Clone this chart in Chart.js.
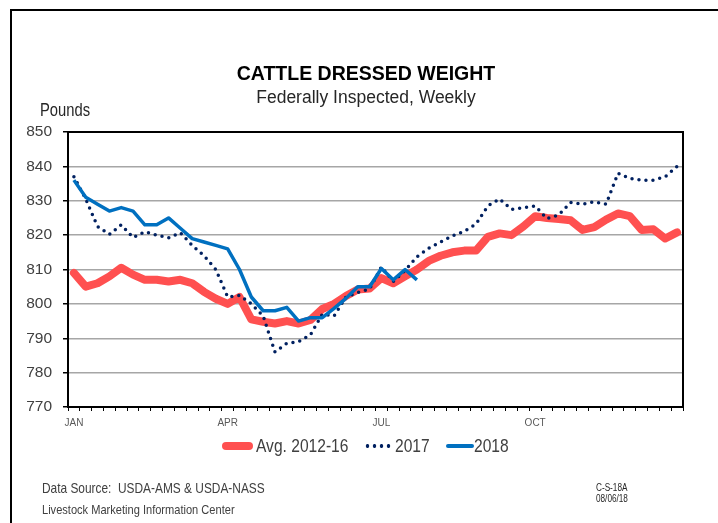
<!DOCTYPE html>
<html>
<head>
<meta charset="utf-8">
<script src="https://cdn.jsdelivr.net/npm/chart.js@4.4.1/dist/chart.umd.min.js"></script>
<style>
  html, body { margin: 0; padding: 0; background: #fff; }
  #wrap { position: relative; width: 718px; height: 523px; overflow: hidden; }
  #frame { position: absolute; left: 10px; top: 9px; width: 900px; height: 700px; border: 2px solid #000; }
  canvas { position: absolute; left: 0; top: 0; }
  .t { position: absolute; white-space: nowrap; line-height: 1; font-family: 'Liberation Sans', Arial, sans-serif; }
  /* no narrow face installed: squeeze Arial instead */
  .narrow { transform: scaleX(0.82); transform-origin: 0 0; }
  .sw { position: absolute; }
</style>
</head>
<body>
<div id="wrap">
  <div id="frame"></div>
  <canvas id="chart" width="718" height="523"></canvas>
  <div class="t" style="left:166px; width:400px; text-align:center; top:64px; font-size:19.5px; font-weight:bold; color:#000;">CATTLE DRESSED WEIGHT</div>
  <div class="t" style="left:166px; width:400px; text-align:center; top:88.5px; font-size:17.5px; color:#262626;">Federally Inspected, Weekly</div>
  <div class="t narrow" style="left:40px; top:101px; font-size:18px; color:#262626;">Pounds</div>

  <div class="sw" style="left:222px; top:442px; width:31px; height:8px; border-radius:4px; background:#FF5050;"></div>
  <div class="t narrow" style="left:256px; top:435.5px; font-size:19px; color:#404040;">Avg. 2012-16</div>
  <div class="sw" style="left:364px; top:444px; width:28px; height:4px; background: radial-gradient(circle, #002060 1.6px, transparent 2.1px) 0 0 / 7px 4px repeat-x;"></div>
  <div class="t narrow" style="left:395px; top:435.5px; font-size:19px; color:#404040;">2017</div>
  <div class="sw" style="left:446px; top:444px; width:28px; height:4px; border-radius:2px; background:#0070C0;"></div>
  <div class="t narrow" style="left:474px; top:435.5px; font-size:19px; color:#404040;">2018</div>

  <div class="t narrow" style="left:42px; top:481px; font-size:14.5px; color:#404040;">Data Source:&nbsp; USDA-AMS &amp; USDA-NASS</div>
  <div class="t narrow" style="left:42px; top:502.5px; font-size:13.5px; color:#404040;">Livestock Marketing Information Center</div>
  <div class="t narrow" style="left:596px; top:482.5px; font-size:10px; color:#262626;">C-S-18A</div>
  <div class="t narrow" style="left:596px; top:493.5px; font-size:10px; color:#262626;">08/06/18</div>
</div>
<script>
// weeks of the year, quarter labels on the x axis
const weeks = Array.from({ length: 52 }, (_, i) => i + 1);
const tickWeeks = [1, 14, 27, 40];
const tickNames = ['JAN', 'APR', 'JUL', 'OCT'];

// pounds
const avg1216 = [809, 805, 806, 808, 810.5, 808.5, 807, 807, 806.5, 807, 806, 803.5, 801.5, 800,
  802, 795.5, 794.8, 794.3, 795, 794.3, 795.3, 798.5, 800, 802.3, 804.2, 804.5, 807.5, 806, 808, 810,
  812.5, 814, 815, 815.5, 815.5, 819.5, 820.5, 820, 822.5, 825.5, 825, 824.7, 824.3, 821.5, 822.3,
  824.5, 826.3, 825.5, 821.5, 821.7, 819, 820.8];
const y2017 = [837, 830.5, 822.5, 820.2, 823, 819.3, 821, 820, 819.2, 820.7, 817, 814, 810, 802,
  802.5, 800, 796.5, 786, 788.5, 789, 791, 797, 796.5, 802, 803.3, 804.3, 810.8, 806.5, 809.7, 813.7,
  816.2, 818, 819.8, 821.1, 823.2, 828.5, 830.5, 827.5, 828, 828.5, 824.8, 825.9, 829.5, 829, 829.7,
  829, 838, 836.5, 836, 836, 837, 840];
const y2018 = [836, 831, 829, 827, 828, 827, 823, 823, 825, 822, 819, 818, 817, 816, 810, 802, 798,
  798, 799, 795, 796, 796, 798.7, 801.6, 805, 805, 810.3, 807, 810, 807];

const yMin = 770, yMax = 850, yStep = 10;
const arial = "'Liberation Sans', Arial, sans-serif";

// black box round the plot area
const plotBox = {
  id: 'plotBox',
  afterDraw(chart) {
    const { ctx, chartArea: a } = chart;
    ctx.save();
    ctx.strokeStyle = '#000';
    ctx.lineWidth = 2;
    ctx.strokeRect(a.left, a.top, a.right - a.left, a.bottom - a.top);
    ctx.restore();
  }
};

new Chart(document.getElementById('chart'), {
  type: 'line',
  data: {
    labels: weeks,
    datasets: [
      { label: 'Avg. 2012-16', data: avg1216, borderColor: '#FF5050', borderWidth: 8,
        borderJoinStyle: 'round', borderCapStyle: 'round', order: 3 },
      { label: '2017', data: y2017, borderColor: '#002060', borderWidth: 3.5,
        borderDash: [0, 7], borderCapStyle: 'round', order: 2 },
      { label: '2018', data: y2018, borderColor: '#0070C0', borderWidth: 3.5,
        borderJoinStyle: 'round', order: 1 }
    ]
  },
  options: {
    responsive: false,
    animation: false,
    layout: { padding: { top: 132, right: 35, left: 0, bottom: 0 } },
    elements: { point: { radius: 0 }, line: { tension: 0 } },
    plugins: { legend: { display: false }, tooltip: { enabled: false } },
    scales: {
      x: {
        offset: true,
        afterFit(scale) { scale.height = 116; },
        grid: { offset: true, drawOnChartArea: false, drawTicks: true, tickLength: 4, tickColor: '#000' },
        border: { color: '#000', width: 2 },
        ticks: {
          autoSkip: false, maxRotation: 0, padding: 6, color: '#595959',
          font: { family: arial, size: 10 },
          callback: (v, i) => {
            const k = tickWeeks.indexOf(weeks[i]);
            return k >= 0 ? tickNames[k] : '';
          }
        }
      },
      y: {
        min: yMin, max: yMax,
        afterFit(scale) { scale.width = 68; },
        grid: { color: '#A6A6A6', lineWidth: 1.5, tickLength: 5, tickColor: '#000' },
        border: { color: '#000', width: 2 },
        ticks: { stepSize: yStep, padding: 11, color: '#404040', font: { family: arial, size: 15.5 } }
      }
    }
  },
  plugins: [plotBox]
});
</script>
</body>
</html>
